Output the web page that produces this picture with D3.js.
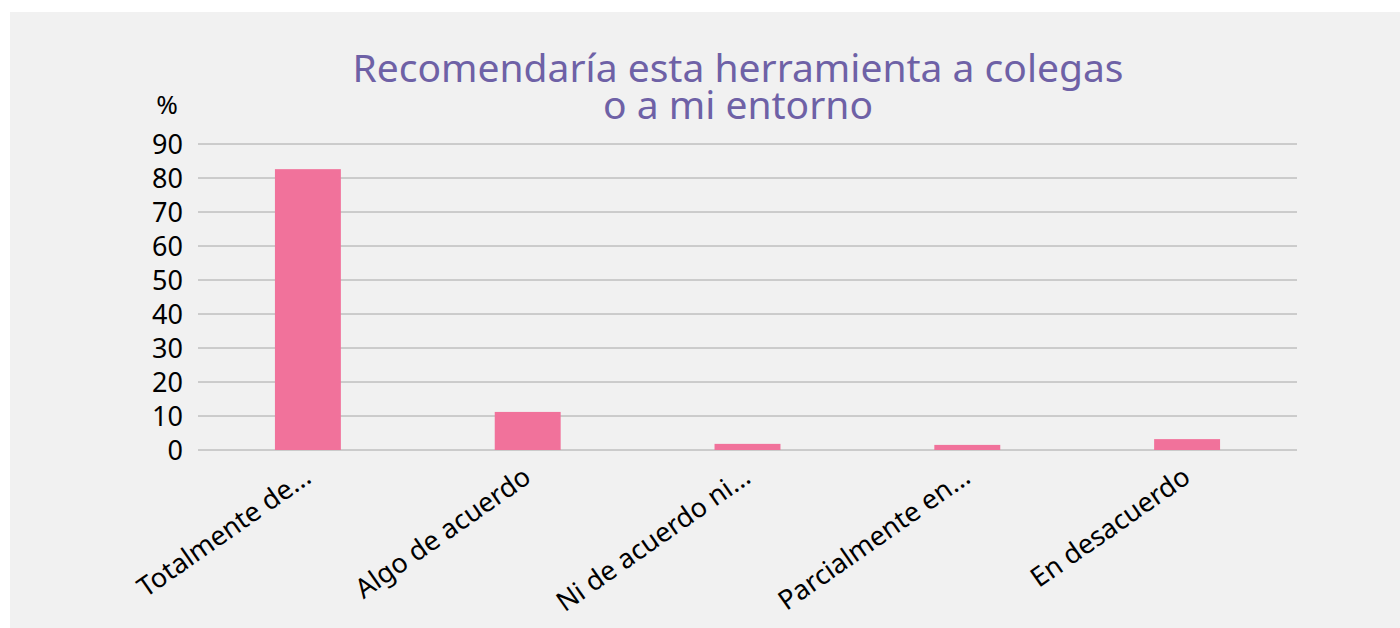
<!DOCTYPE html>
<html>
<head>
<meta charset="utf-8">
<script src="https://cdn.jsdelivr.net/npm/d3@7"></script>
<style>
  html, body { margin: 0; padding: 0; background: #ffffff; }
  svg { display: block; font-family: "Noto Sans", "Open Sans", sans-serif; }
</style>
</head>
<body>
<svg id="chart" width="1400" height="628"></svg>
<script>
// data
var categories = ["Totalmente de...", "Algo de acuerdo", "Ni de acuerdo ni...", "Parcialmente en...", "En desacuerdo"];
var values = [82.6, 11.2, 1.8, 1.5, 3.2];
var yTicks = [0, 10, 20, 30, 40, 50, 60, 70, 80, 90];
var titleLines = ["Recomendaría esta herramienta a colegas", "o a mi entorno"];

var svg = d3.select("#chart");

svg.append("rect")
    .attr("x", 10).attr("y", 12)
    .attr("width", 1390).attr("height", 616)
    .attr("fill", "#f1f1f1");

var margin = {top: 144, right: 103, bottom: 178, left: 198},
    width = 1400 - margin.left - margin.right,
    height = 628 - margin.top - margin.bottom;

var g = svg.append("g")
    .attr("transform", "translate(" + margin.left + "," + margin.top + ")");

var x = d3.scaleBand()
    .domain(categories)
    .range([0, width])
    .paddingInner(0.7)
    .paddingOuter(0.35);

var y = d3.scaleLinear()
    .domain([0, 90])
    .range([height, 0]);

// grid lines
g.selectAll("line.grid")
  .data(yTicks)
  .enter().append("line")
    .attr("class", "grid")
    .attr("x1", 0).attr("x2", width)
    .attr("y1", function(d) { return y(d); })
    .attr("y2", function(d) { return y(d); })
    .attr("stroke", "#a6a6a6")
    .attr("stroke-width", 1);

// bars
g.selectAll("rect.bar")
  .data(values)
  .enter().append("rect")
    .attr("class", "bar")
    .attr("x", function(d, i) { return x(categories[i]); })
    .attr("y", function(d) { return y(d); })
    .attr("width", x.bandwidth())
    .attr("height", function(d) { return height - y(d); })
    .attr("fill", "#f1729b");

// y axis
var yAxis = g.append("g")
    .attr("transform", "translate(-15,0)")
    .call(d3.axisLeft(y).tickValues(yTicks).tickSize(0).tickPadding(0));
yAxis.select(".domain").remove();
yAxis.selectAll("text")
    .attr("font-size", 27)
    .attr("font-family", "Noto Sans, sans-serif")
    .attr("fill", "#000")
    .attr("dy", "0.36em");

// x axis labels
var xAxis = g.append("g")
    .attr("transform", "translate(0," + height + ")")
    .call(d3.axisBottom(x).tickSize(0).tickPadding(0));
xAxis.select(".domain").remove();
xAxis.selectAll("text")
    .attr("font-size", 27)
    .attr("font-family", "Noto Sans, sans-serif")
    .attr("fill", "#000")
    .attr("text-anchor", "end")
    .attr("dy", null)
    .attr("y", 0)
    .attr("transform", "translate(5,31) rotate(-35)");

// axis unit
svg.append("text")
    .attr("x", 167).attr("y", 114)
    .attr("text-anchor", "middle")
    .attr("font-size", 26)
    .attr("fill", "#000")
    .text("%");

// title, one text per line
svg.selectAll("text.title")
  .data(titleLines)
  .enter().append("text")
    .attr("class", "title")
    .attr("x", 738)
    .attr("y", function(d, i) { return 82 + i * 37; })
    .attr("text-anchor", "middle")
    .attr("font-size", 39)
    .attr("fill", "#6e61a6")
    .text(function(d) { return d; });
</script>
</body>
</html>
